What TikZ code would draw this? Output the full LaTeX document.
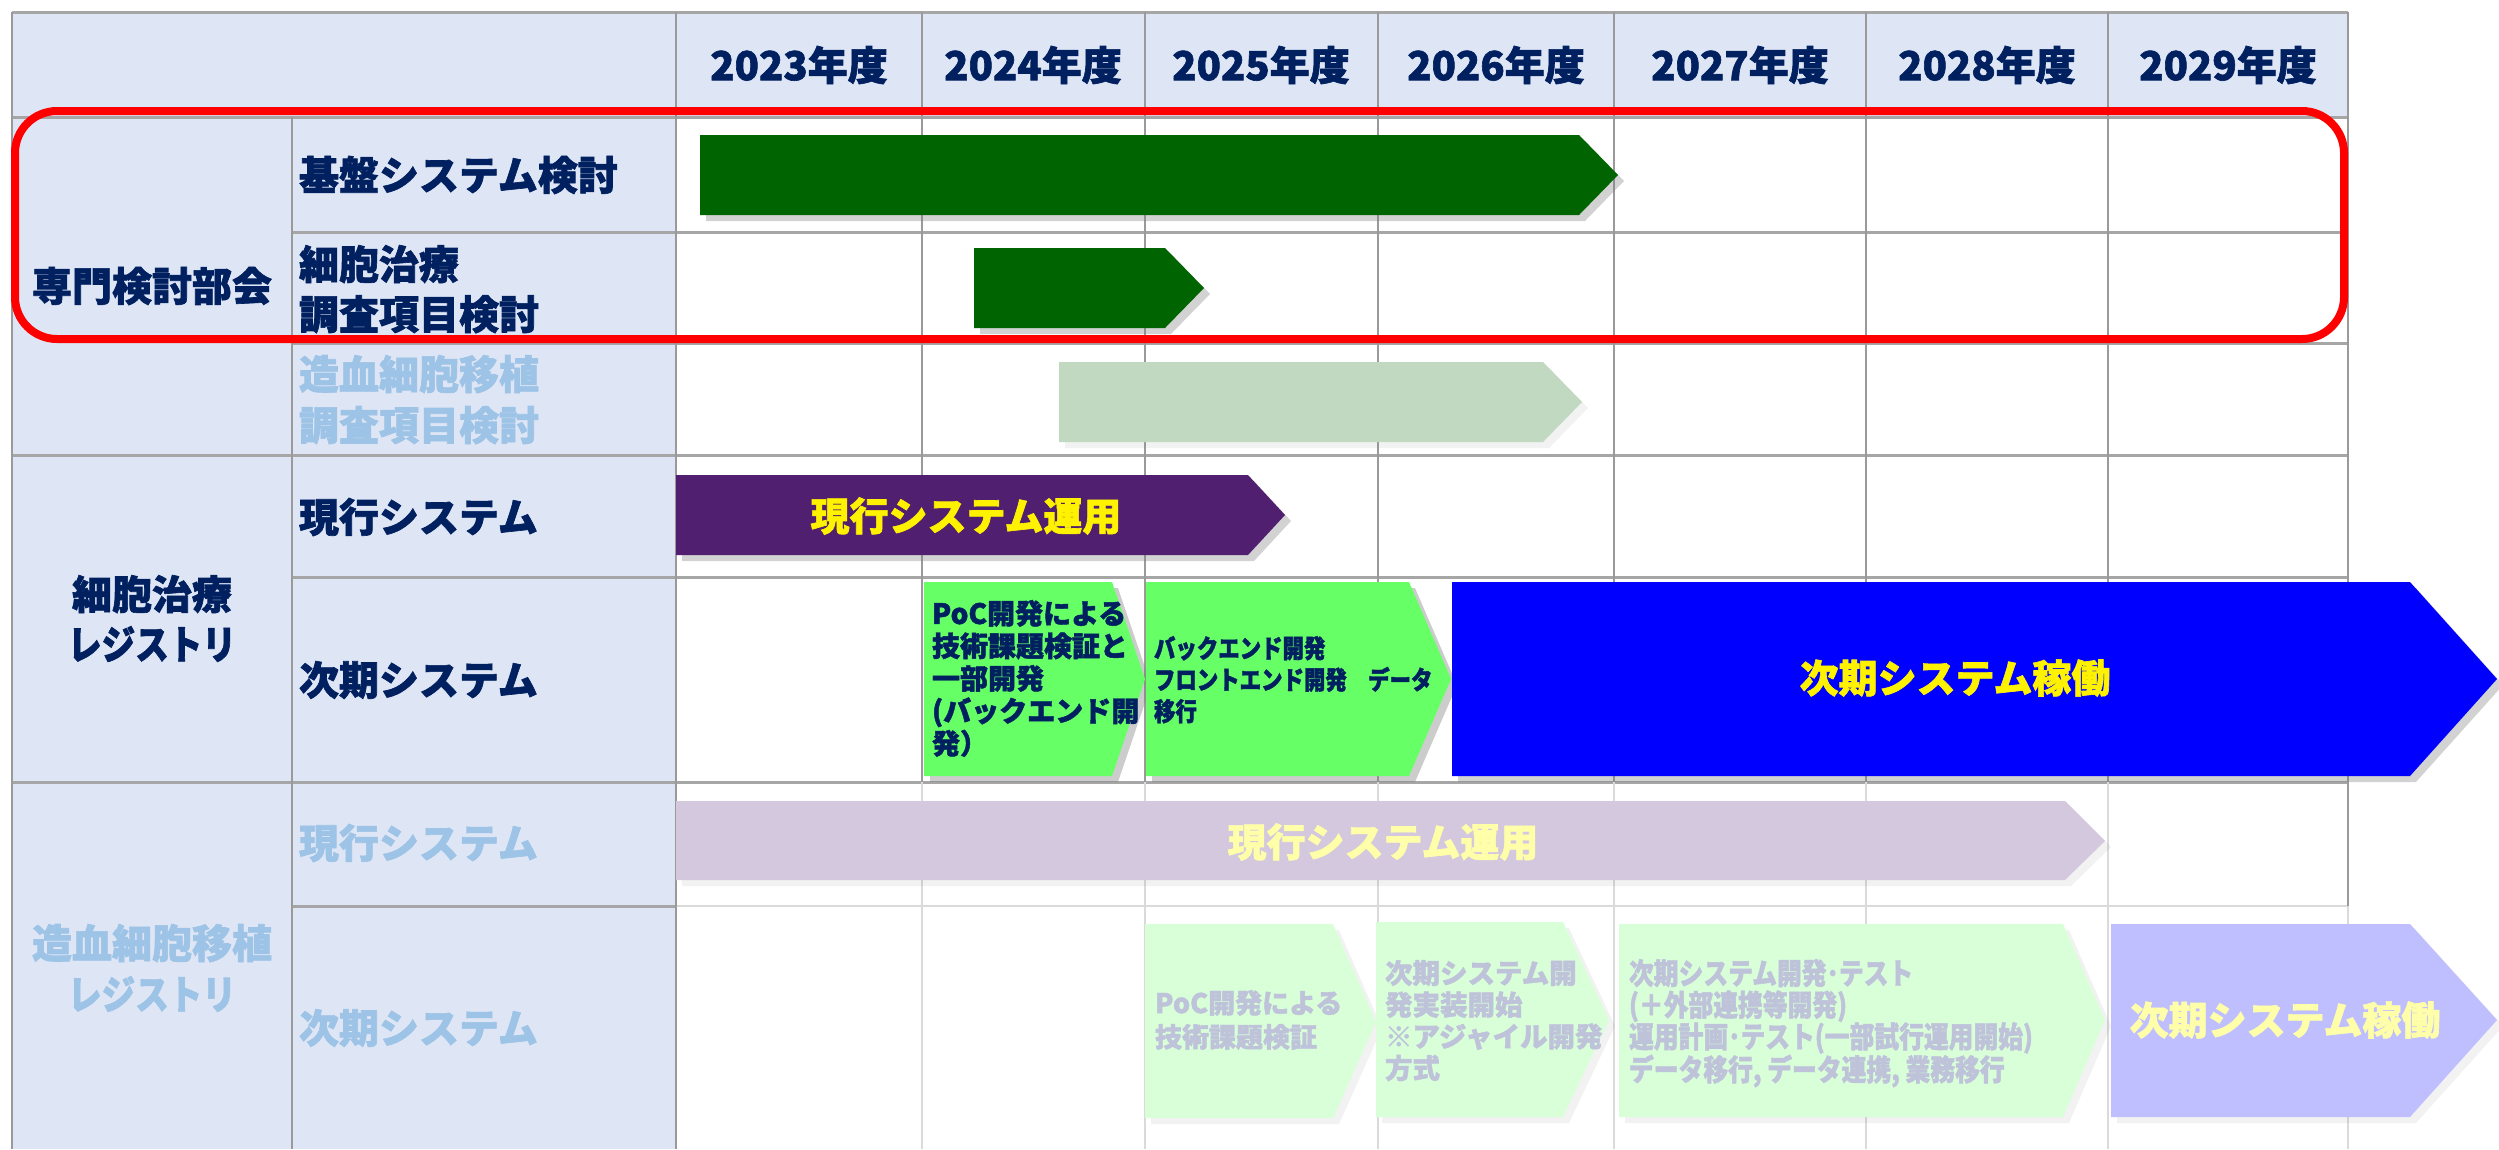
\documentclass[tikz,border=0pt]{standalone}
\usepackage{fontspec}
\setmainfont{Noto Sans CJK JP}[BoldFeatures={FakeBold=1.6}]
\newfontfamily\jpc{Noto Sans CJK JP}[FakeStretch=0.84, BoldFeatures={FakeBold=1.6}]
\usetikzlibrary{shadows}
\definecolor{navy}{HTML}{002060}
\definecolor{hdrfill}{HTML}{DEE6F6}
\definecolor{lblue}{HTML}{9DC3E6}
\definecolor{dkgreen}{HTML}{006400}
\definecolor{pgreenbar}{HTML}{C0D9C0}
\definecolor{purp}{HTML}{501F6F}
\definecolor{bgreen}{HTML}{66FF66}
\definecolor{pbluebox}{HTML}{BFBFFF}
\definecolor{lpurp}{HTML}{D4C8DE}
\definecolor{pgreen}{HTML}{D9FFD9}
\definecolor{paletxt}{HTML}{BFC3D9}
\definecolor{lyellow}{HTML}{FFFFAA}
\definecolor{gline}{HTML}{A6A6A6}
\definecolor{vline}{HTML}{9A9A9A}
\definecolor{lline}{HTML}{DADADA}
\begin{document}
\begin{tikzpicture}[x=1pt,y=-1pt,
  every node/.style={inner sep=0pt, outer sep=0pt},
  hl/.style={draw=gline, line width=3pt},
  vl/.style={draw=vline, line width=1.5pt},
  lhl/.style={draw=lline, line width=2.5pt},
  lvl/.style={draw=lline, line width=1.5pt},
  shd/.style={drop shadow={shadow xshift=6pt, shadow yshift=-6pt, opacity=0.35}},
  lshd/.style={drop shadow={shadow xshift=6pt, shadow yshift=-6pt, opacity=0.1}},
  gshd/.style={drop shadow={shadow xshift=6pt, shadow yshift=-6pt, opacity=0.4}},
  hdrtxt/.style={text=navy, font=\bfseries\fontsize{40}{48}\selectfont},
  lbl/.style={text=navy, font=\bfseries\fontsize{40}{50}\selectfont},
  lblL/.style={text=lblue, font=\bfseries\fontsize{40}{51}\selectfont},
  ytxt/.style={text=yellow, font=\bfseries\fontsize{39}{46}\selectfont},
  lytxt/.style={text=lyellow, font=\bfseries\fontsize{39}{46}\selectfont},
  boxtxt/.style={text=navy, align=left, anchor=north west},
  paletext/.style={text=paletxt, align=left, anchor=north west}
]
\useasboundingbox (0,0) rectangle (2499,1149);
\fill[white] (0,0) rectangle (2499,1149);
% fills
\fill[hdrfill] (12,12) rectangle (2348,117);
\fill[hdrfill] (12,117) rectangle (676,1149);
% horizontal lines
\draw[hl] (12,12) -- (2348,12);
\draw[hl] (12,117) -- (2348,117);
\draw[hl] (292,232) -- (2348,232);
\draw[hl] (292,343) -- (2348,343);
\draw[hl] (12,455) -- (2348,455);
\draw[hl] (292,577) -- (2348,577);
\draw[hl] (12,782) -- (2348,782);
\draw[hl] (292,906) -- (676,906);
\draw[lhl] (676,906) -- (2348,906);
% vertical lines
\draw[vl] (12,12) -- (12,1149);
\draw[vl] (292,117) -- (292,1149);
\draw[vl] (676,12) -- (676,1149);
\foreach \x in {922,1145,1378,1614,1866,2108} {
  \draw[vl] (\x,12) -- (\x,782);
  \draw[lvl] (\x,782) -- (\x,1149);
}
\draw[vl] (2348,12) -- (2348,906);
\draw[lvl] (2348,906) -- (2348,1149);
% header
\foreach \x/\yr [count=\i] in {799/2023,1033/2024,1261/2025,1496/2026,1740/2027,1987/2028,2228/2029}
  \node[hdrtxt] (yr\i) at (\x,65) {\yr 年度};
% labels
\node[lbl] (bukai) at (152,286) {専門検討部会};
\node[lbl, anchor=west] (kiban) at (299,175) {基盤システム検討};
\node[lbl, align=left, anchor=north west] (saibo) at (299,245) {細胞治療\\調査項目検討};
\node[lblL, align=left, anchor=north west] (zoketsu) at (299,355) {造血細胞移植\\調査項目検討};
\node[lbl, align=center, anchor=north] (reg1) at (152,575) {細胞治療\\{\jpc レジストリ}};
\node[lbl, anchor=west] (gen1) at (299,517) {現行システム};
\node[lbl, anchor=west] (ji1) at (299,680) {次期システム};
\node[lblL, align=center, anchor=north] (reg2) at (152,924) {造血細胞移植\\{\jpc レジストリ}};
\node[lblL, anchor=west] (gen2) at (299,843) {現行システム};
\node[lblL, anchor=west] (ji2) at (299,1028) {次期システム};
% bars
\fill[dkgreen, shd] (700,135) -- (1579,135) -- (1618,175) -- (1579,215) -- (700,215) -- cycle;
\fill[dkgreen, shd] (974,248) -- (1165,248) -- (1204,288) -- (1165,328) -- (974,328) -- cycle;
\fill[pgreenbar, lshd] (1059,362) -- (1543,362) -- (1582,402) -- (1543,442) -- (1059,442) -- cycle;
\fill[purp, shd] (676,475) -- (1248,475) -- (1285,515) -- (1248,555) -- (676,555) -- cycle;
\node[ytxt] (op1) at (966,516) {現行システム運用};
\fill[bgreen, gshd] (924,582) -- (1112,582) -- (1145,679) -- (1112,776) -- (924,776) -- cycle;
\fill[bgreen, gshd] (1146,582) -- (1409,582) -- (1451,679) -- (1409,776) -- (1146,776) -- cycle;
\fill[blue, shd] (1452,582) -- (2410,582) -- (2497,679) -- (2410,776) -- (1452,776) -- cycle;
\node[boxtxt, font=\bfseries\fontsize{28}{32.5}\selectfont] (poc1) at (932,600) {PoC開発による\\技術課題検証と\\一部開発\\(バックエンド開\\発）};
\node[boxtxt, font=\jpc\bfseries\fontsize{25.5}{31.5}\selectfont] (be1) at (1154,636) {バックエンド開発\\フロントエンド開発　データ\\移行};
\node[ytxt] (kado1) at (1955,678) {次期システム稼働};
% lower rows
\fill[lpurp, lshd] (676,801) -- (2065,801) -- (2105,841) -- (2065,880) -- (676,880) -- cycle;
\node[lytxt] (op2) at (1383,842) {現行システム運用};
\fill[pgreen, lshd] (1145,924) -- (1333,924) -- (1376,1022) -- (1333,1118) -- (1145,1118) -- cycle;
\fill[pgreen, lshd] (1376,922) -- (1563,922) -- (1609,1020) -- (1563,1117) -- (1376,1117) -- cycle;
\fill[pgreen, lshd] (1619,924) -- (2063,924) -- (2105,1020) -- (2063,1117) -- (1619,1117) -- cycle;
\fill[pbluebox, lshd] (2111,924) -- (2410,924) -- (2497,1020) -- (2410,1117) -- (2111,1117) -- cycle;
\node[paletext, font=\bfseries\fontsize{27}{34}\selectfont] (poc2) at (1155,990) {PoC開発による\\技術課題検証};
\node[paletext, font=\bfseries\fontsize{27.5}{31.7}\selectfont] (ji3) at (1385,960) {次期システム開\\発実装開始\\※アジャイル開発\\方式};
\node[paletext, font=\jpc\bfseries\fontsize{29.5}{31.7}\selectfont] (ji4) at (1629,959) {次期システム開発･テスト\\(＋外部連携等開発)\\運用計画･テスト(一部試行運用開始)\\データ移行, データ連携, 業務移行};
\node[lytxt] (kado2) at (2285,1020) {次期システム稼働};
% red frame
\draw[red, line width=8pt, rounded corners=42pt] (15,111) rectangle (2344,339);
\end{tikzpicture}
\end{document}
